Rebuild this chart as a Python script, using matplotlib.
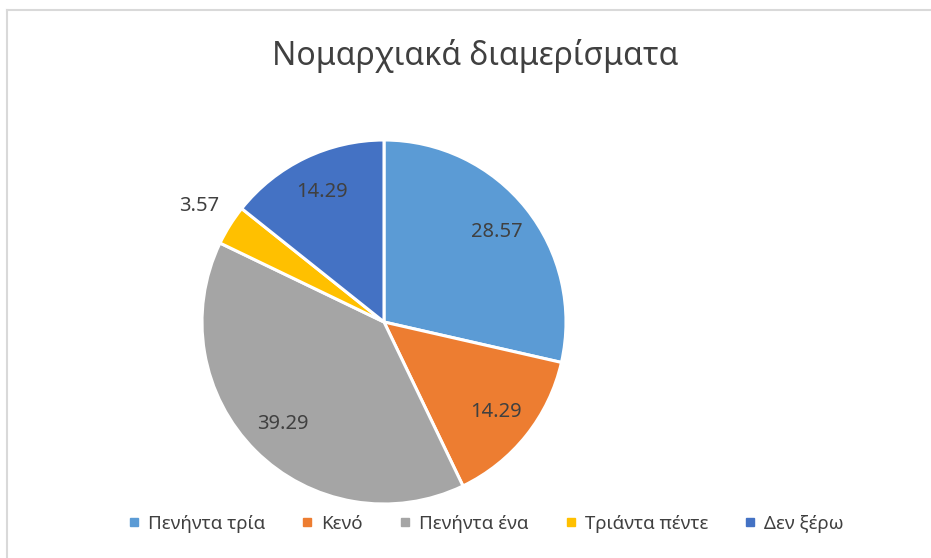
import numpy as np
import matplotlib.pyplot as plt
from matplotlib.lines import Line2D

plt.rcParams['font.family'] = ['Noto Sans', 'DejaVu Sans']

title = "Νομαρχιακά διαμερίσματα"
categories = ["Πενήντα τρία", "Κενό", "Πενήντα ένα", "Τριάντα πέντε", "Δεν ξέρω"]
values = [28.57, 14.29, 39.29, 3.57, 14.29]
colors = ["#5B9BD5", "#ED7D31", "#A5A5A5", "#FFC000", "#4472C4"]

W, H = 931, 558
fig = plt.figure(figsize=(W / 100, H / 100), dpi=100)

# chart frame (only top and left edges are visible)
fig.add_artist(Line2D([7 / W, 1], [1 - 10 / H, 1 - 10 / H], color="#D9D9D9", lw=1.5))
fig.add_artist(Line2D([7 / W, 7 / W], [0, 1 - 10 / H], color="#D9D9D9", lw=1.5))

cx, cy, r = 384, 322, 182
ax = fig.add_axes([(cx - r) / W, (H - cy - r) / H, 2 * r / W, 2 * r / H])
wedges, _ = ax.pie(values, colors=colors, startangle=90, counterclock=False,
                   wedgeprops=dict(edgecolor="white", linewidth=2.2))
ax.set_xlim(-1, 1)
ax.set_ylim(-1, 1)
ax.set_aspect("equal")
ax.axis("off")

for w, v in zip(wedges, values):
    ang = np.deg2rad((w.theta1 + w.theta2) / 2)
    d = 1.2 if v < 5 else 0.79
    ax.text(d * np.cos(ang), d * np.sin(ang), f"{v:.2f}", ha="center", va="center",
            fontsize=14.5, color="#404040")

fig.text(475 / W, 1 - 56 / H, title, ha="center", va="center", fontsize=23, color="#404040")

handles = [Line2D([], [], marker="s", linestyle="", markersize=5.5, color=c) for c in colors]
fig.legend(handles, categories, loc="center", bbox_to_anchor=(485 / W, 1 - 524 / H), ncol=5,
           frameon=False, fontsize=13.5, labelcolor="#404040", handletextpad=0.35,
           columnspacing=1.85, handlelength=0.8)

fig.savefig("out.png", dpi=100)
